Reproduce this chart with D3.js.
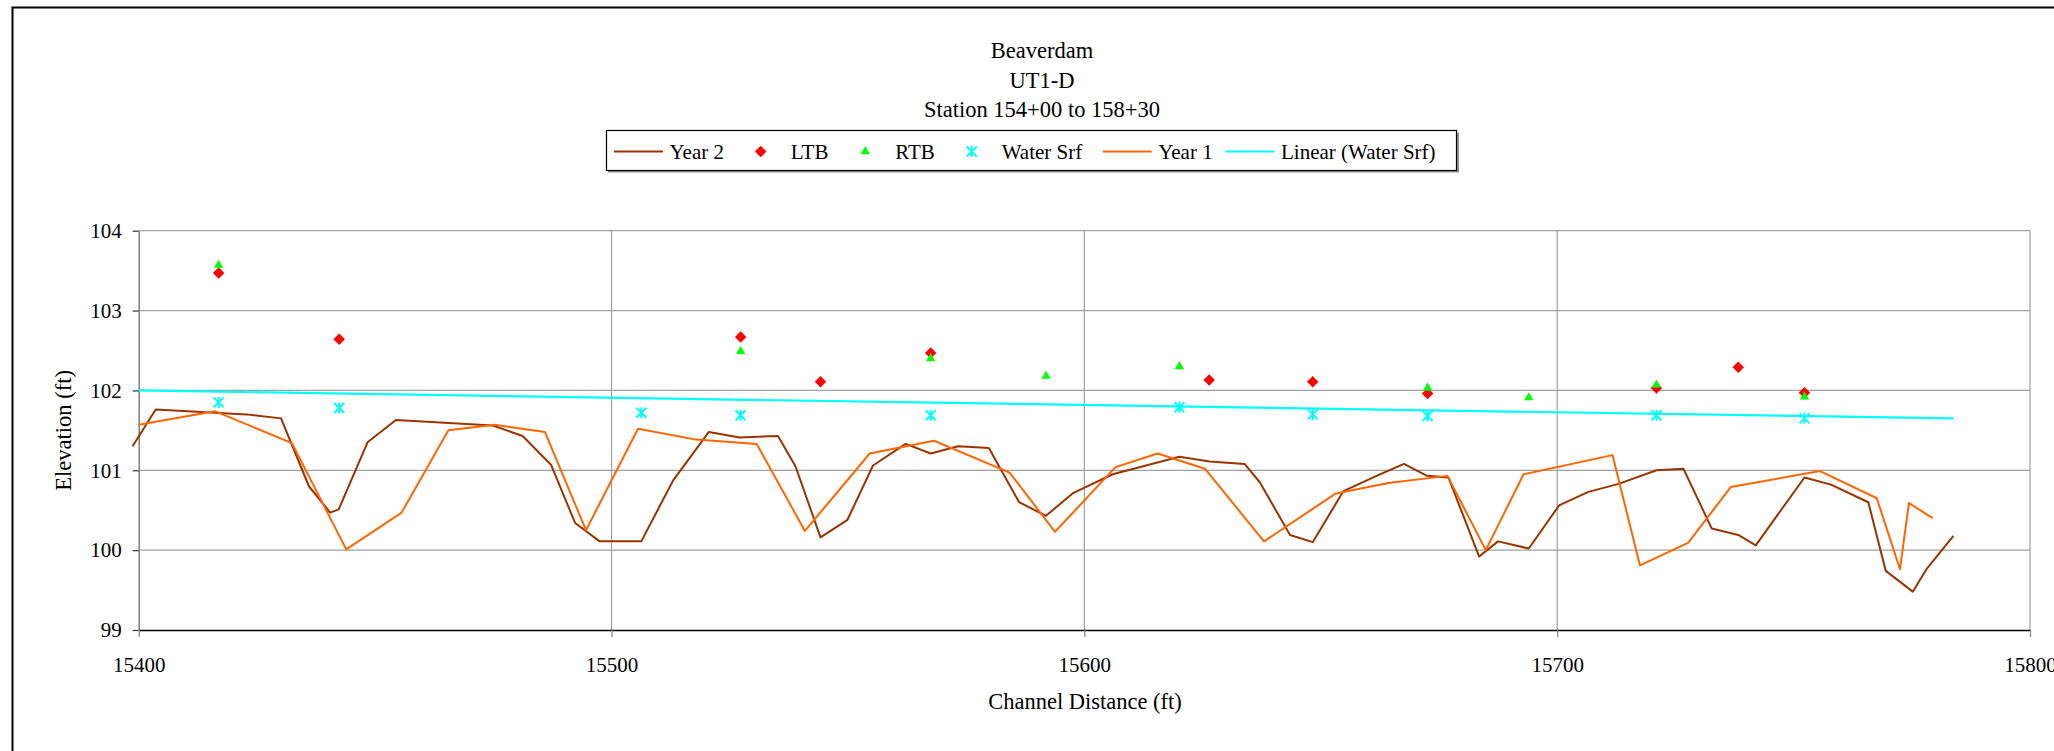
<!DOCTYPE html>
<html>
<head>
<meta charset="utf-8">
<script src="https://cdn.jsdelivr.net/npm/d3@7"></script>
<style>
  html, body { margin: 0; background: #fff; overflow: hidden; }
  svg { display: block; }
  text { font-family: "Liberation Serif", "Times New Roman", serif; fill: #000; }
</style>
</head>
<body>
<svg width="2054" height="751"></svg>
<script>
var titleLines = ["Beaverdam", "UT1-D", "Station 154+00 to 158+30"];
var xTicks = [15400, 15500, 15600, 15700, 15800];
var yTicks = [99, 100, 101, 102, 103, 104];

// [channel distance (ft), elevation (ft)]
var year2 = [
  [15398.7, 101.30], [15403.6, 101.76], [15422.8, 101.70], [15430.1, 101.65],
  [15436.0, 100.80], [15440.5, 100.47], [15442.3, 100.51], [15448.4, 101.35],
  [15454.4, 101.63], [15474.9, 101.56], [15481.2, 101.43], [15487.2, 101.07],
  [15492.3, 100.34], [15497.5, 100.11], [15506.3, 100.11], [15513.0, 100.87],
  [15520.6, 101.48], [15527.1, 101.41], [15535.2, 101.43], [15538.9, 101.05],
  [15544.2, 100.16], [15549.9, 100.38], [15555.3, 101.06], [15562.2, 101.33],
  [15567.5, 101.21], [15573.3, 101.30], [15579.8, 101.28], [15586.2, 100.60],
  [15591.9, 100.43], [15597.5, 100.71], [15606.0, 100.95], [15620.1, 101.17],
  [15626.5, 101.11], [15633.9, 101.08], [15637.1, 100.85], [15643.5, 100.19],
  [15648.3, 100.10], [15654.8, 100.74], [15661.8, 100.93], [15667.6, 101.08],
  [15672.5, 100.93], [15677.0, 100.91], [15683.5, 99.92], [15687.5, 100.11],
  [15694.0, 100.02], [15700.4, 100.56], [15706.6, 100.73], [15713.0, 100.83],
  [15721.0, 101.00], [15726.7, 101.02], [15732.7, 100.27], [15738.3, 100.19],
  [15742.0, 100.06], [15752.3, 100.91], [15757.9, 100.82], [15765.8, 100.60],
  [15769.5, 99.74], [15775.2, 99.48], [15778.2, 99.77], [15783.8, 100.18]
];

var year1 = [
  [15400.0, 101.57], [15416.1, 101.74], [15432.4, 101.34], [15443.9, 100.01],
  [15455.6, 100.47], [15465.5, 101.50], [15475.3, 101.57], [15485.9, 101.48],
  [15494.6, 100.25], [15505.6, 101.52], [15517.3, 101.39], [15530.7, 101.33],
  [15540.9, 100.24], [15554.6, 101.21], [15568.2, 101.37], [15584.2, 100.97],
  [15593.8, 100.23], [15606.6, 101.04], [15615.5, 101.21], [15625.5, 101.02],
  [15638.0, 100.11], [15653.2, 100.71], [15664.3, 100.84], [15676.8, 100.93],
  [15684.9, 100.00], [15692.9, 100.95], [15711.7, 101.19], [15717.5, 99.81],
  [15727.7, 100.09], [15736.7, 100.79], [15755.6, 100.99], [15767.6, 100.65],
  [15772.5, 99.76], [15774.4, 100.59], [15779.4, 100.40]
];

var ltb = [
  [15416.9, 103.47], [15442.4, 102.64], [15527.3, 102.67], [15544.2, 102.11],
  [15567.5, 102.47], [15626.4, 102.13], [15648.3, 102.11], [15672.6, 101.96],
  [15721.0, 102.03], [15738.3, 102.29], [15752.3, 101.97]
];

var rtb = [
  [15416.9, 103.57], [15527.3, 102.49], [15567.5, 102.40], [15591.9, 102.18],
  [15620.1, 102.30], [15672.6, 102.03], [15694.0, 101.91], [15721.0, 102.07],
  [15752.3, 101.92]
];

var waterSrf = [
  [15416.9, 101.85], [15442.4, 101.78], [15506.3, 101.72], [15527.3, 101.69],
  [15567.5, 101.69], [15620.1, 101.79], [15648.3, 101.70], [15672.6, 101.68],
  [15721.0, 101.69], [15752.3, 101.65]
];

// Linear (Water Srf) trendline ends
var waterTrend = [[15400, 102.00], [15783.8, 101.65]];

var svg = d3.select("svg"),
    plot = {left: 138.7, right: 2030, top: 230.7, bottom: 630};

var x = d3.scaleLinear().domain([15400, 15800]).range([plot.left, plot.right]),
    y = d3.scaleLinear().domain([99, 104]).range([plot.bottom, plot.top]);

var line = d3.line()
             .x(function(d) { return x(d[0]); })
             .y(function(d) { return y(d[1]); });

// outer chart frame, drawn as two edges only (it runs off the right and bottom)
svg.append("path")
   .attr("d", "M12.5,760V7.5H2060")
   .attr("fill", "none")
   .attr("stroke", "#000")
   .attr("stroke-width", 2);

// titles
svg.append("g").selectAll("text")
   .data(titleLines)
   .enter().append("text")
   .attr("x", 1042)
   .attr("y", function(d, i) { return 58 + i * 29.5; })
   .attr("text-anchor", "middle")
   .attr("font-size", 22.5)
   .text(function(d) { return d; });

// gridlines
var grid = svg.append("g").attr("stroke", "#a0a0a0").attr("stroke-width", 1.2);
grid.selectAll(".h").data(yTicks.slice(1)).enter().append("line")
    .attr("x1", plot.left).attr("x2", plot.right)
    .attr("y1", function(d) { return y(d); })
    .attr("y2", function(d) { return y(d); });
grid.selectAll(".v").data(xTicks.slice(1)).enter().append("line")
    .attr("y1", plot.top).attr("y2", plot.bottom)
    .attr("x1", function(d) { return x(d); })
    .attr("x2", function(d) { return x(d); });

// axes
var yAxis = d3.axisLeft(y).tickValues(yTicks).tickFormat(d3.format("d"))
              .tickSize(6).tickSizeOuter(0).tickPadding(11);
var xAxis = d3.axisBottom(x).tickValues(xTicks).tickFormat(d3.format("d"))
              .tickSize(7).tickSizeOuter(0);

svg.append("g")
   .attr("transform", "translate(" + plot.left + ",0)")
   .call(yAxis)
   .attr("font-size", 21).attr("font-family", null)
   .call(function(g) {
     g.select(".domain").attr("stroke", "#808080").attr("stroke-width", 1.5);
     g.selectAll(".tick line").attr("stroke", "#333").attr("stroke-width", 1.2);
   });

svg.append("g")
   .attr("transform", "translate(0," + plot.bottom + ")")
   .call(xAxis)
   .attr("font-size", 21).attr("font-family", null)
   .call(function(g) {
     g.select(".domain").attr("stroke", "#000").attr("stroke-width", 1.5);
     g.selectAll(".tick line").attr("stroke", "#808080").attr("stroke-width", 1.2);
     g.selectAll(".tick text").attr("y", 42).attr("dy", null);
   });

svg.append("text")
   .attr("transform", "translate(71," + ((plot.top + plot.bottom) / 2) + ") rotate(-90)")
   .attr("text-anchor", "middle")
   .attr("font-size", 22.5)
   .text("Elevation (ft)");

svg.append("text")
   .attr("x", 1085).attr("y", 709)
   .attr("text-anchor", "middle")
   .attr("font-size", 22.5)
   .text("Channel Distance (ft)");

// marker shapes
var diamond = d3.symbol().type(d3.symbolSquare).size(66)();
var triangle = d3.symbol().type(d3.symbolTriangle).size(38)();
var star = "M-5,-5L5,5M-5,5L5,-5M0,-5.5L0,5.5";

function drawMarkers(data, shape, fill, stroke, rot) {
  svg.append("g").selectAll("path")
     .data(data)
     .enter().append("path")
     .attr("d", shape)
     .attr("transform", function(d) {
       return "translate(" + x(d[0]) + "," + y(d[1]) + ")" + (rot ? " rotate(45)" : "");
     })
     .attr("fill", fill)
     .attr("stroke", stroke)
     .attr("stroke-width", stroke === "none" ? null : 2);
}

// series
svg.append("path")
   .datum(year2)
   .attr("d", line)
   .attr("fill", "none")
   .attr("stroke", "#993300")
   .attr("stroke-width", 2)
   .attr("stroke-linejoin", "round");

drawMarkers(ltb, diamond, "#ff0000", "none", true);
drawMarkers(rtb, triangle, "#00ff00", "none", false);
drawMarkers(waterSrf, star, "none", "#00ffff", false);

svg.append("path")
   .datum(year1)
   .attr("d", line)
   .attr("fill", "none")
   .attr("stroke", "#ff6600")
   .attr("stroke-width", 2)
   .attr("stroke-linejoin", "round");

svg.append("path")
   .datum(waterTrend)
   .attr("d", line)
   .attr("fill", "none")
   .attr("stroke", "#00ffff")
   .attr("stroke-width", 2.2);

// legend
var legend = svg.append("g");
legend.append("rect")
      .attr("x", 608).attr("y", 132.5).attr("width", 851).attr("height", 40)
      .attr("fill", "#909090");
legend.append("rect")
      .attr("x", 606.5).attr("y", 130.5).attr("width", 850).attr("height", 40)
      .attr("fill", "#fff").attr("stroke", "#000").attr("stroke-width", 1.2);

var legendItems = [
  {name: "Year 2", kind: "line", color: "#993300", at: 614},
  {name: "LTB", kind: "diamond", color: "#ff0000", at: 760.7},
  {name: "RTB", kind: "triangle", color: "#00ff00", at: 865.3},
  {name: "Water Srf", kind: "star", color: "#00ffff", at: 971.7},
  {name: "Year 1", kind: "line", color: "#ff6600", at: 1102.7},
  {name: "Linear (Water Srf)", kind: "line", color: "#00ffff", at: 1225.5}
];
var ly = 151.5;

legendItems.forEach(function(d) {
  var tx;
  if (d.kind === "line") {
    legend.append("line")
          .attr("x1", d.at).attr("x2", d.at + 49)
          .attr("y1", ly).attr("y2", ly)
          .attr("stroke", d.color).attr("stroke-width", 2);
    tx = d.at + 55.5;
  } else {
    var p = legend.append("path")
          .attr("transform", "translate(" + d.at + "," + ly + ")" + (d.kind === "diamond" ? " rotate(45)" : ""));
    if (d.kind === "diamond") p.attr("d", diamond).attr("fill", d.color);
    if (d.kind === "triangle") p.attr("d", triangle).attr("fill", d.color);
    if (d.kind === "star") p.attr("d", star).attr("fill", "none").attr("stroke", d.color).attr("stroke-width", 2);
    tx = d.at + 30;
  }
  legend.append("text")
        .attr("x", tx).attr("y", ly + 7.5)
        .attr("font-size", 21)
        .text(d.name);
});
</script>
</body>
</html>
